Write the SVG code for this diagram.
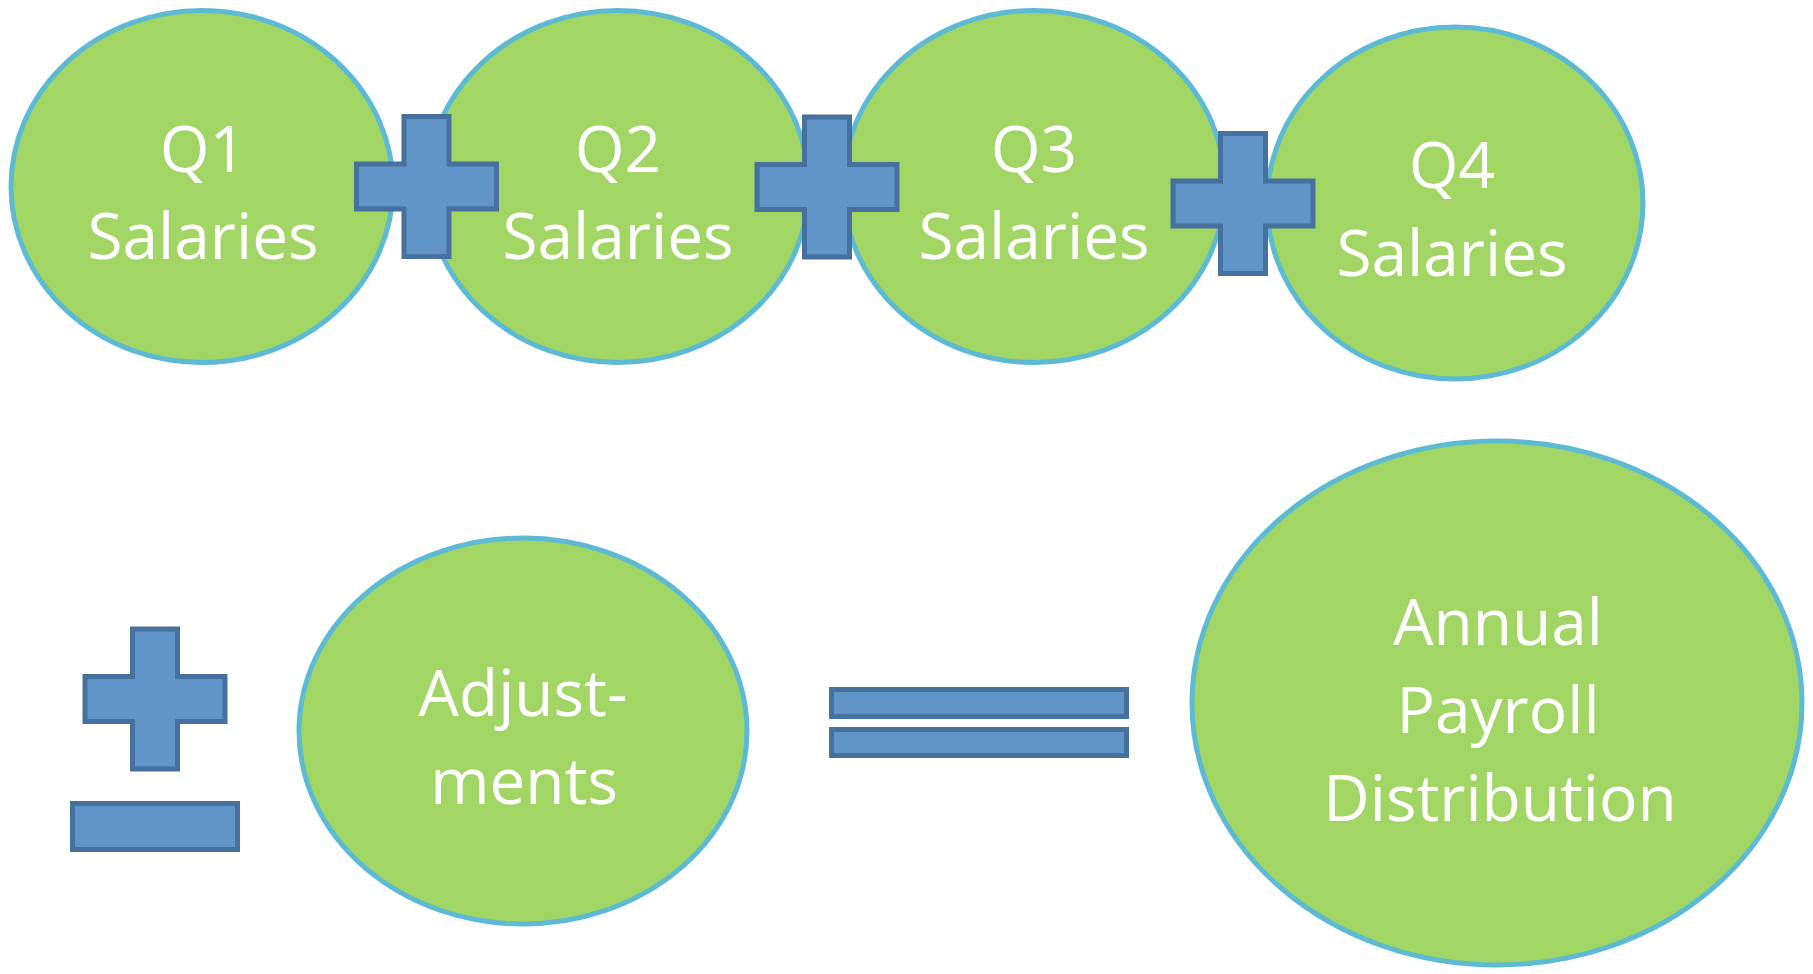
<svg xmlns="http://www.w3.org/2000/svg" xmlns:xlink="http://www.w3.org/1999/xlink" width="1813" height="974" viewBox="0 0 1813 974">
  <style>
    .node { fill: #A2D664; stroke: #5CBAD5; stroke-width: 5; }
    .op { fill: #6195C7; stroke: #46709E; stroke-width: 5; }
    .lbl { font-family: "Open Sans", "Noto Sans", "Liberation Sans", sans-serif; font-size: 64px; fill: #FFFFFF; text-anchor: middle; }
  </style>
  <defs>
    <path id="plus" d="M-22.5,-70 h45 v47.5 h47.5 v45 h-47.5 v47.5 h-45 v-47.5 h-47.5 v-45 h47.5 z"/>
  </defs>
  <rect width="1813" height="974" fill="#FFFFFF"/>

  <g id="q1">
    <ellipse class="node" cx="202" cy="186.5" rx="191" ry="176"/>
    <text class="lbl" x="203" y="172">Q1</text>
    <text class="lbl" x="203" y="259">Salaries</text>
  </g>
  <g id="q2">
    <ellipse class="node" cx="618" cy="186.5" rx="191" ry="176"/>
    <text class="lbl" x="618" y="172">Q2</text>
    <text class="lbl" x="618" y="259">Salaries</text>
  </g>
  <g id="q3">
    <ellipse class="node" cx="1034" cy="186.5" rx="191" ry="176"/>
    <text class="lbl" x="1034" y="172">Q3</text>
    <text class="lbl" x="1034" y="259">Salaries</text>
  </g>
  <g id="q4">
    <ellipse class="node" cx="1455" cy="203" rx="188" ry="176"/>
    <text class="lbl" x="1452" y="188">Q4</text>
    <text class="lbl" x="1452" y="276">Salaries</text>
  </g>
  <g id="adjustments">
    <ellipse class="node" cx="523" cy="731" rx="224" ry="193"/>
    <text class="lbl" x="523" y="716">Adjust-</text>
    <text class="lbl" x="524" y="804">ments</text>
  </g>
  <g id="annual">
    <ellipse class="node" cx="1497" cy="703" rx="305" ry="262"/>
    <text class="lbl" x="1498" y="645">Annual</text>
    <text class="lbl" x="1498" y="733">Payroll</text>
    <text class="lbl" x="1500" y="821">Distribution</text>
  </g>

  <g id="plus1"><use xlink:href="#plus" class="op" transform="translate(426.5,186.5)"/></g>
  <g id="plus2"><use xlink:href="#plus" class="op" transform="translate(827,187)"/></g>
  <g id="plus3"><use xlink:href="#plus" class="op" transform="translate(1243,203.5)"/></g>
  <g id="plusminus">
    <use xlink:href="#plus" class="op" transform="translate(155,699)"/>
    <rect class="op" x="72.5" y="803.5" width="165" height="46"/>
  </g>
  <g id="equals">
    <rect class="op" x="831.5" y="689.5" width="295" height="27"/>
    <rect class="op" x="831.5" y="729.5" width="295" height="26"/>
  </g>

  <g id="connectors"/>
</svg>
